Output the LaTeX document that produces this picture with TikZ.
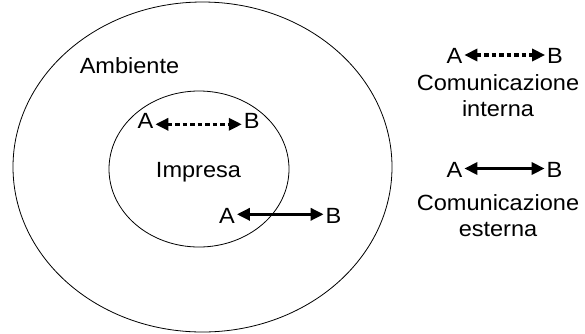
\documentclass[tikz,border=0pt]{standalone}
\usepackage{fontspec}
\setmainfont{Liberation Sans}[FakeStretch=1.07]
\usetikzlibrary{arrows.meta}
\begin{document}
\begin{tikzpicture}[x=1pt,y=-1pt,
  lbl/.style={font=\fontsize{22}{26.4}\selectfont, inner sep=2pt, outer sep=0pt, anchor=base},
  ring/.style={draw, line width=0.8pt},
  link/.style={line width=3.2pt, {Triangle[length=13pt,width=12pt]}-{Triangle[length=13pt,width=12pt]}},
  internal/.style={link, dash pattern=on 4.5pt off 3pt}]
  % canvas
  \path[use as bounding box, fill=white] (0,0) rectangle (585,333);

  % environment and company
  \draw[ring] (202.5,167) ellipse [x radius=189.5, y radius=165];
  \draw[ring] (199,169) ellipse [x radius=90, y radius=78];
  \node[lbl] (amb) at (129.5,73.3) {Ambiente};
  \node[lbl] (imp) at (198.5,177) {Impresa};

  % internal communication inside the company
  \node[lbl] (ia) at (145.5,128.3) {A};
  \node[lbl] (ib) at (251.7,128.3) {B};
  \draw[internal] ([yshift=4pt]ia.base east) -- ([yshift=4pt]ib.base west);

  % external communication across the boundary
  \node[lbl] (ea) at (227,223) {A};
  \node[lbl] (eb) at (333.5,223) {B};
  \draw[link] ([yshift=8.7pt]ea.base east) -- ([yshift=8.7pt]eb.base west);

  % legend: internal
  \node[lbl] (la1) at (454.5,63) {A};
  \node[lbl] (lb1) at (555,63) {B};
  \draw[internal] ([yshift=8pt]la1.base east) -- ([yshift=8pt]lb1.base west);
  \node[lbl] (ln1a) at (498,90) {Comunicazione};
  \node[lbl] (ln1b) at (498,116.5) {interna};

  % legend: external
  \node[lbl] (la2) at (454.5,177) {A};
  \node[lbl] (lb2) at (554.5,177) {B};
  \draw[link] ([yshift=8.5pt]la2.base east) -- ([yshift=8.5pt]lb2.base west);
  \node[lbl] (ln2a) at (498,210) {Comunicazione};
  \node[lbl] (ln2b) at (498,236.5) {esterna};
\end{tikzpicture}
\end{document}
